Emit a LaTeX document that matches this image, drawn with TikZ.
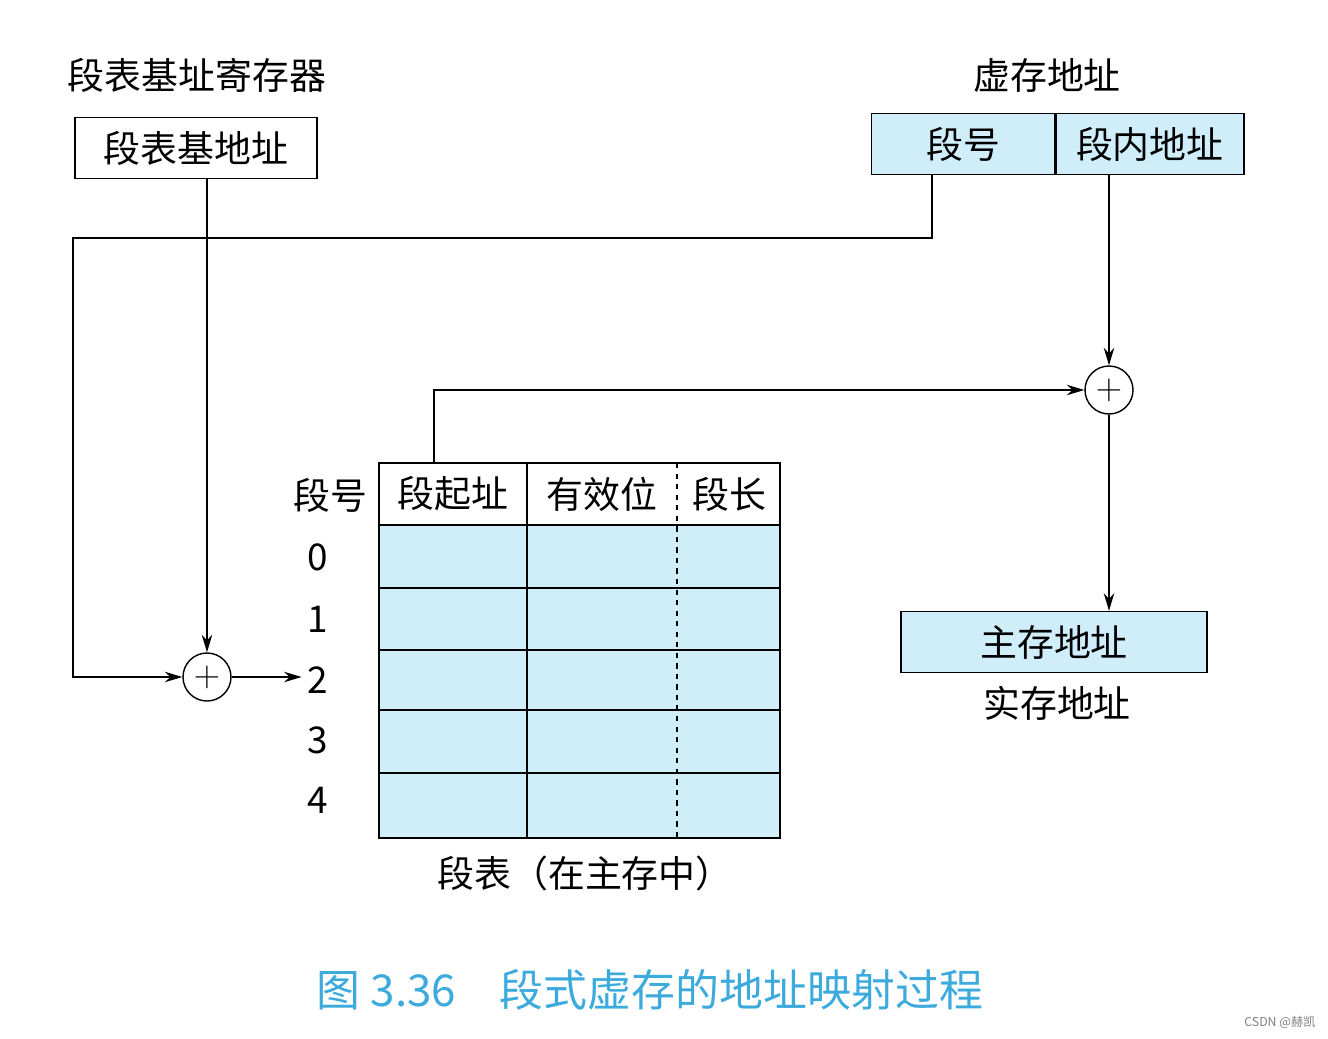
\documentclass[tikz,border=0pt]{standalone}
\usepackage{fontspec}
\setmainfont{Noto Sans CJK SC}
\usetikzlibrary{arrows.meta,positioning}
\definecolor{cellblue}{RGB}{207,238,250}
\definecolor{capblue}{RGB}{60,170,220}
\begin{document}
\begin{tikzpicture}[x=0.02cm,y=-0.02cm,
    every node/.style={font=\fontsize{21}{24}\selectfont},
    box/.style={draw,thick,inner sep=0pt,minimum height=1.22cm},
    adder/.style={draw,thick,circle,minimum size=0.96cm,inner sep=0pt},
    link/.style={thick},
    arr/.style={thick,-{Stealth[length=10pt,width=6pt]}}]
    \useasboundingbox (0,0) rectangle (1328,1038);
    % registers
    \node at (197,75) (regt) {段表基址寄存器};
    \node[box,fill=white,minimum width=4.84cm] at (196,148) (base) {段表基地址};
    \node at (1047,75) (vat) {虚存地址};
    \node[box,fill=cellblue,minimum width=3.66cm] at (963,144) (seg) {段号};
    \node[box,fill=cellblue,minimum width=3.76cm,right=0pt of seg] (off) {段内地址};
    \node[adder] at (207,677) (add1) {$+$};
    \node[adder] at (1109,390) (add2) {$+$};
    \node[box,fill=cellblue,minimum width=6.12cm] at (1054,642) (phys) {主存地址};
    \node at (1057,703) (pat) {实存地址};
    % segment table
    \fill[cellblue] (379,525) rectangle (780,838);
    \foreach \y in {525,588,650,710,773} \draw[thick] (379,\y) -- (780,\y);
    \draw[thick] (379,463) rectangle (780,838);
    \draw[thick] (527,463) -- (527,838);
    \draw[thick,dashed] (677,463) -- (677,838);
    \node at (453,494) (start) {段起址};
    \node at (602,494) {有效位};
    \node at (729,494) {段长};
    \node at (330,495) {段号};
    \foreach \i/\y in {0/557,1/619,2/680,3/740,4/800}
        \node at (318,\y) (n\i) {\i};
    \node at (585,873) (tt) {段表（在主存中）};
    \coordinate (tp) at (434,463);
    \coordinate (sp) at (932,175);
    \coordinate (bp) at (207,179);
    \coordinate (op) at (1109,175);
    % connectors
    \draw[link,-{Stealth[length=10pt,width=6pt]}] (sp) |- (73,238) |- (add1);
    \draw[arr] (bp) -- (add1);
    \draw[arr] (add1) -- (add1 -| n2.west);
    \draw[arr] (tp) |- (add2);
    \draw[arr] (op) -- (add2);
    \draw[arr] (add2) -- (add2 |- phys.north);
    % caption
    \node[text=capblue,font=\fontsize{25}{28}\selectfont] at (650,990) {图 3.36\quad 段式虚存的地址映射过程};
    \node[text=gray,font=\fontsize{7}{8}\selectfont] at (1280,1022) {CSDN @赫凯};
\end{tikzpicture}
\end{document}
